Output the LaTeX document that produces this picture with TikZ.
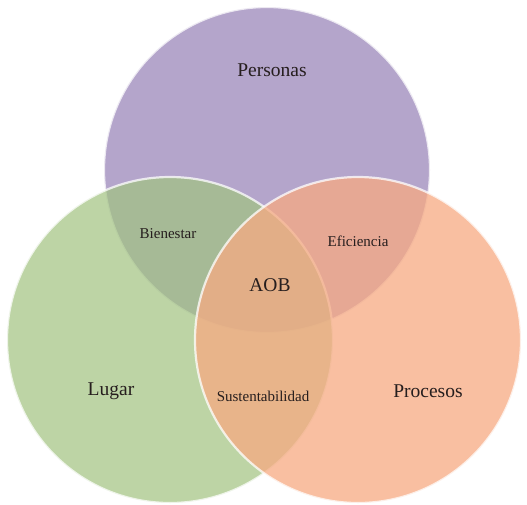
\documentclass[tikz,border=0pt]{standalone}
\usepackage{fontspec}
\setmainfont{Liberation Serif}
\usetikzlibrary{positioning}
\definecolor{persona}{RGB}{180,165,203}
\definecolor{lugar}{RGB}{161,195,128}
\definecolor{proceso}{RGB}{247,170,130}
\definecolor{tinta}{RGB}{38,30,30}

\begin{document}
\begin{tikzpicture}[x=1pt,y=-1pt,
  set/.style={line width=2.2pt,draw=white,draw opacity=0.75},
  big/.style={text=tinta,font=\fontsize{19.5}{22}\selectfont},
  small/.style={text=tinta,font=\fontsize{15}{17}\selectfont}]
  \useasboundingbox[fill=white] (0,0) rectangle (527,504);
  \coordinate (P) at (267,170);
  \coordinate (L) at (170,340);
  \coordinate (R) at (358,340);
  \filldraw[set,fill=persona] (P) circle (163pt);
  \filldraw[set,fill=lugar,fill opacity=0.7] (L) circle (163pt);
  \filldraw[set,fill=proceso,fill opacity=0.75] (R) circle (163pt);
  \node[big] (personas) at (272,70) {Personas};
  \node[big] (lugar) at (111,391) {Lugar};
  \node[big] (procesos) at (428,391) {Procesos};
  \node[big] (aob) at (270,285) {AOB};
  \node[small] (bienestar) at (168,234) {Bienestar};
  \node[small] (eficiencia) at (358,241) {Eficiencia};
  \node[small] (sustenta) at (263,396) {Sustentabilidad};
\end{tikzpicture}
\end{document}
